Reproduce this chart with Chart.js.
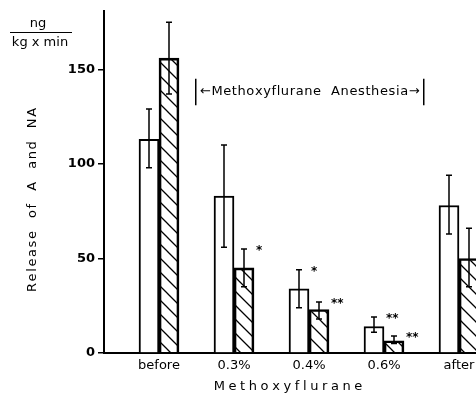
<!DOCTYPE html>
<html>
<head>
<meta charset="utf-8">
<script src="https://cdn.jsdelivr.net/npm/chart.js@4"></script>
<style>
html, body { margin: 0; padding: 0; background: #fff; }
canvas { display: block; }
</style>
</head>
<body>
<canvas id="release" width="476" height="393"></canvas>
<script>
// values (ng / kg x min)
const categories = ["before", "0.3%", "0.4%", "0.6%", "after"];
const releaseA = [113, 83, 34, 14, 78];
const releaseNA = [156, 45, 23, 6.5, 50];
const errA = [[98, 129], [56, 110], [24, 44], [11, 19], [63, 94]];
const errNA = [[137, 175], [35, 55], [18, 27], [5, 9], [35, 66]];
const sigA = ["", "", "*", "**", ""];
const sigNA = ["", "*", "**", "**", ""];
const anesthesiaSpan = [1.49, 4.53];
const anesthesiaY = [131, 145];

const FONT = "'DejaVu Sans', sans-serif";

function hatchPattern() {
    const c = document.createElement("canvas");
    c.width = 14;
    c.height = 14;
    const g = c.getContext("2d");
    g.strokeStyle = "#000";
    g.lineWidth = 1.3;
    g.beginPath();
    g.moveTo(-2, -2); g.lineTo(16, 16);
    g.moveTo(-2, 12); g.lineTo(2, 16);
    g.moveTo(12, -2); g.lineTo(16, 2);
    g.stroke();
    return g.createPattern(c, "repeat");
}

function spacedText(ctx, text, cx, y, spacing) {
    const widths = [...text].map((ch) => ctx.measureText(ch).width);
    const total = widths.reduce((a, b) => a + b, 0) + spacing * (widths.length - 1);
    let x = cx - total / 2;
    ctx.textAlign = "left";
    [...text].forEach((ch, i) => {
        ctx.fillText(ch, x, y);
        x += widths[i] + spacing;
    });
}

const overlay = {
    id: "overlay",
    afterDatasetsDraw(chart) {
        const { ctx, scales: { x, y } } = chart;
        ctx.save();
        ctx.strokeStyle = "#000";
        ctx.fillStyle = "#000";
        ctx.lineWidth = 1.5;

        // error bars and significance marks
        [[errA, sigA], [errNA, sigNA]].forEach(([err, sig], d) => {
            chart.getDatasetMeta(d).data.forEach((bar, i) => {
                const top = y.getPixelForValue(err[i][1]);
                const bot = y.getPixelForValue(err[i][0]);
                ctx.beginPath();
                ctx.moveTo(bar.x, top); ctx.lineTo(bar.x, bot);
                ctx.moveTo(bar.x - 3, top); ctx.lineTo(bar.x + 3, top);
                ctx.moveTo(bar.x - 3, bot); ctx.lineTo(bar.x + 3, bot);
                ctx.stroke();
                if (sig[i]) {
                    ctx.font = "bold 12px " + FONT;
                    ctx.textAlign = "left";
                    ctx.textBaseline = "alphabetic";
                    ctx.fillText(sig[i], bar.x + bar.width / 2 + 2, top + 5);
                }
            });
        });

        // anesthesia bracket
        const x0 = x.getPixelForValue(anesthesiaSpan[0]);
        const x1 = x.getPixelForValue(anesthesiaSpan[1]);
        const yt = y.getPixelForValue(anesthesiaY[1]);
        const yb = y.getPixelForValue(anesthesiaY[0]);
        ctx.lineWidth = 1.5;
        ctx.beginPath();
        ctx.moveTo(x0, yt); ctx.lineTo(x0, yb);
        ctx.moveTo(x1, yt); ctx.lineTo(x1, yb);
        ctx.stroke();
        ctx.font = "13px " + FONT;
        ctx.textBaseline = "middle";
        spacedText(ctx, "\u2190Methoxyflurane  Anesthesia\u2192", (x0 + x1) / 2, (yt + yb) / 2, 0.6);
        ctx.restore();
    },
    afterDraw(chart) {
        const { ctx } = chart;
        ctx.save();
        ctx.fillStyle = "#000";
        ctx.strokeStyle = "#000";

        // unit
        ctx.font = "13px " + FONT;
        ctx.textAlign = "center";
        ctx.textBaseline = "alphabetic";
        ctx.fillText("ng", 38, 27);
        ctx.lineWidth = 1.2;
        ctx.beginPath();
        ctx.moveTo(10, 32.5); ctx.lineTo(72, 32.5);
        ctx.stroke();
        ctx.fillText("kg x min", 40, 46);

        // axis titles
        ctx.font = "13px " + FONT;
        ctx.textBaseline = "middle";
        spacedText(ctx, "Methoxyflurane", 288, 387, 3.6);

        ctx.translate(33, 200);
        ctx.rotate(-Math.PI / 2);
        ctx.font = "13px " + FONT;
        spacedText(ctx, "Release  of  A  and  NA", 0, 0, 1.6);
        ctx.restore();
    }
};

new Chart(document.getElementById("release"), {
    type: "bar",
    data: {
        datasets: [
            {
                label: "A",
                data: releaseA.map((v, i) => ({ x: i + 1, y: v })),
                backgroundColor: "#fff",
                borderColor: "#000",
                borderWidth: 2,
                borderSkipped: "bottom",
            },
            {
                label: "NA",
                data: releaseNA.map((v, i) => ({ x: i + 1, y: v })),
                backgroundColor: hatchPattern(),
                borderColor: "#000",
                borderWidth: 2,
                borderSkipped: "bottom",
            },
        ],
    },
    options: {
        responsive: false,
        animation: false,
        barThickness: 20,
        layout: { padding: { top: 10, right: 0, left: 0, bottom: 0 } },
        plugins: { legend: { display: false }, tooltip: { enabled: false } },
        scales: {
            x: {
                type: "linear",
                offset: false,
                min: 20 / 75,
                max: 392 / 75,
                grid: { display: false },
                border: { display: true, color: "#000", width: 2 },
                ticks: {
                    stepSize: 1,
                    includeBounds: false,
                    autoSkip: false,
                    maxRotation: 0,
                    padding: -3,
                    color: "#000",
                    font: { family: "DejaVu Sans", size: 13 },
                    callback: (v) => categories[v - 1] || "",
                },
                afterFit: (scale) => { scale.height = 40; },
            },
            y: {
                min: 0,
                max: 181,
                grid: {
                    drawOnChartArea: false,
                    drawTicks: true,
                    tickLength: 6,
                    color: "#000",
                    lineWidth: 1.5,
                },
                border: { display: true, color: "#000", width: 2 },
                ticks: {
                    stepSize: 50,
                    includeBounds: false,
                    padding: 3,
                    color: "#000",
                    font: { family: "DejaVu Sans", size: 13, weight: "bold" },
                },
                afterFit: (scale) => { scale.width = 104; },
            },
        },
    },
    plugins: [overlay],
});
</script>
</body>
</html>
